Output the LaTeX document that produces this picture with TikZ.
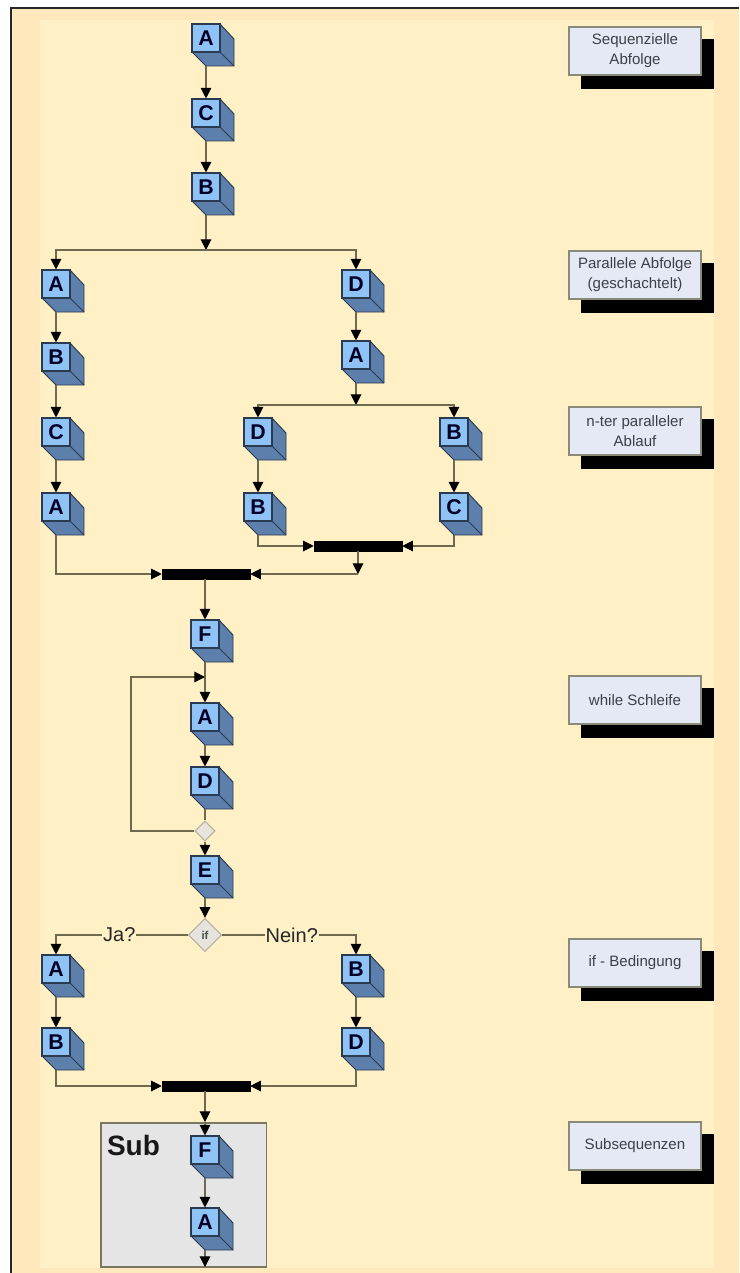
\documentclass[tikz,border=0pt]{standalone}
\usepackage{fontspec}
\setmainfont{Liberation Sans}
\usetikzlibrary{arrows.meta,shapes.geometric}
\definecolor{pagebg}{HTML}{FFE8BC}
\definecolor{innerbg}{HTML}{FFF0C6}
\definecolor{cubefront}{HTML}{8FC3F5}
\definecolor{cubeside}{HTML}{5D7FAB}
\definecolor{cubeedge}{HTML}{2A3A50}
\definecolor{linecol}{HTML}{6E6A50}
\definecolor{notefill}{HTML}{E4E9F5}
\definecolor{noteedge}{HTML}{8A8A78}
\definecolor{notetext}{HTML}{3A3F48}
\definecolor{diamfill}{HTML}{E6E4DC}
\definecolor{diamedge}{HTML}{B4B09A}
\definecolor{subfill}{HTML}{E5E5E5}
\definecolor{subedge}{HTML}{7A7660}
\tikzset{
  x=0.75pt,y=-0.75pt,
  cubeface/.style={draw=cubeedge,line width=0.8pt,fill=cubefront,minimum size=21pt,inner sep=0pt,font=\fontsize{16}{16}\selectfont\bfseries,text=black!85!blue},
  cubeshade/.style={draw=cubeedge,line width=0.7pt,fill=cubeside},
  conn/.style={draw=linecol,line width=0.8pt,-{Triangle[length=8pt,width=8pt,fill=black,color=black]}},
  plainconn/.style={draw=linecol,line width=0.8pt},
  syncbar/.style={fill=black,draw=black,minimum width=66pt,minimum height=7.5pt,inner sep=0pt},
  notebox/.style={draw=noteedge,line width=1.3pt,fill=notefill,minimum width=99.5pt,minimum height=35.5pt,inner sep=1pt,align=center,text=notetext,font=\fontsize{11.3}{15}\selectfont},
  shadowbox/.style={fill=black,minimum width=100pt,minimum height=37pt,inner sep=0pt},
  decision/.style={diamond,aspect=1,draw=diamedge,line width=0.8pt,fill=diamfill,inner sep=0pt},
  branchlabel/.style={fill=innerbg,inner sep=0.7pt,font=\fontsize{15}{15}\selectfont,text=black!85},
}
% \cubenode{name}{x}{y}{letter}: x,y = centre of front face
\newcommand{\cubenode}[4]{%
  \fill[cubeshade] (#2-14,#3-14) -- (#2+14,#3-14) -- (#2+28,#3+1) -- (#2+28,#3+28) -- (#2,#3+28) -- (#2-14,#3+14) -- cycle;
  \draw[cubeedge,line width=0.6pt] (#2+14,#3+14) -- (#2+28,#3+28);
  \node[cubeface] (#1) at (#2,#3) {#4};
  \coordinate (#1o) at (#2,#3+28);
}
\newcommand{\notenode}[4]{%
  \node[shadowbox] (#1s) at (#2+12.5,#3+13) {};
  \node[notebox] (#1) at (#2,#3) {#4};
}
\begin{document}
\begin{tikzpicture}
\useasboundingbox (0,0) rectangle (739,1273);
\fill[white] (0,0) rectangle (739,1273);
\fill[pagebg] (11,8) rectangle (739,1273);
\fill[innerbg] (40,20) rectangle (714,1268);
\draw[black!85,line width=0.9pt] (11,1273) -- (11,8) -- (739,8);

% Subsequence container
\node[draw=subedge,line width=1pt,fill=subfill,minimum width=124pt,minimum height=108pt,inner sep=0pt] (subbox) at (183.5,1195) {};
\node[font=\fontsize{21}{21}\selectfont\bfseries,text=black!90] (sublabel) at (133.5,1145) {Sub};

% Cubes
\cubenode{a1}{206}{38}{A}
\cubenode{c1}{206}{113}{C}
\cubenode{b1}{206}{187}{B}
\cubenode{a2}{56}{284}{A}
\cubenode{d2}{356}{284}{D}
\cubenode{b2}{56}{357}{B}
\cubenode{a3}{356}{355}{A}
\cubenode{c2}{56}{432}{C}
\cubenode{d3}{258}{432}{D}
\cubenode{b3}{454}{432}{B}
\cubenode{a4}{56}{507}{A}
\cubenode{b4}{258}{507}{B}
\cubenode{c3}{454}{507}{C}
\cubenode{f1}{205}{634}{F}
\cubenode{a5}{205}{717}{A}
\cubenode{d4}{205}{781}{D}
\cubenode{e1}{205}{870}{E}
\cubenode{a6}{56}{969}{A}
\cubenode{b5}{356}{969}{B}
\cubenode{b6}{56}{1042}{B}
\cubenode{d5}{356}{1042}{D}
\cubenode{f2}{205}{1150}{F}
\cubenode{a7}{205}{1222}{A}

% Bars and decisions
\node[syncbar] (bar1) at (358,546) {};
\node[syncbar] (bar2) at (206,574) {};
\node[syncbar] (bar3) at (206,1086) {};
\node[decision,minimum size=15pt] (loopd) at (205,831) {};
\node[decision,minimum size=25pt,font=\fontsize{8.5}{8.5}\selectfont\bfseries,text=black!70] (ifd) at (205,935) {if};

% Free junctions
\coordinate (split1) at (206,250);
\coordinate (split2) at (356,405);
\coordinate (join1) at (358,574);
\coordinate (looptop) at (205,677);
\coordinate (subout) at (205,1267);
\coordinate (subin) at (205,1122);
\coordinate (loopl) at (131,831);
\coordinate (loopu) at (131,677);
\coordinate (mark1) at (131,757);
\coordinate (mark2) at (131,781);

% Sequence
\draw[conn] (a1o) -- (c1);
\draw[conn] (c1o) -- (b1);
\draw[conn] (b1o) -- (split1);
\draw[conn] (split1) -| (a2);
\draw[conn] (split1) -| (d2);
\draw[conn] (a2o) -- (b2);
\draw[conn] (b2o) -- (c2);
\draw[conn] (c2o) -- (a4);
\draw[conn] (d2o) -- (a3);
\draw[conn] (a3o) -- (split2);
\draw[conn] (split2) -| (d3);
\draw[conn] (split2) -| (b3);
\draw[conn] (d3o) -- (b4);
\draw[conn] (b3o) -- (c3);
\draw[conn] (b4o) |- (bar1);
\draw[conn] (c3o) |- (bar1);
\draw[conn] (bar1.south -| join1) -- (join1);
\draw[conn] (join1) -- (bar2);
\draw[conn] (a4o) |- (bar2);
\draw[conn] (bar2.south -| f1) -- (f1);
\draw[conn] (f1o) -- (a5);
\draw[conn] (a5o) -- (d4);
\draw[plainconn] (d4o) -- (loopd);
\draw[conn] (loopd.west) -- (loopl) -- (loopu) -- (looptop);
\draw[draw=linecol,line width=1.4pt] (mark1) -- (mark2);
\draw[conn] (loopd) -- (e1);
\draw[conn] (e1o) -- (ifd);
\draw[conn] (ifd) -| node[branchlabel,pos=0.26] (ja) {Ja?} (a6);
\draw[conn] (ifd) -| node[branchlabel,pos=0.26] (nein) {Nein?} (b5);
\draw[conn] (a6o) -- (b6);
\draw[conn] (b5o) -- (d5);
\draw[conn] (b6o) |- (bar3);
\draw[conn] (d5o) |- (bar3);
\draw[conn] (bar3.south -| subin) -- (subin);
\draw[conn] (subin) -- (f2);
\draw[conn] (f2o) -- (a7);
\draw[conn] (a7o) -- (subout);

% Notes
\notenode{n1}{635}{51}{Sequenzielle\\Abfolge}
\notenode{n2}{635}{275}{Parallele Abfolge\\(geschachtelt)}
\notenode{n3}{635}{431}{n-ter paralleler\\Ablauf}
\notenode{n4}{635}{700}{while Schleife}
\notenode{n5}{635}{963}{if - Bedingung}
\notenode{n6}{635}{1146}{Subsequenzen}
\end{tikzpicture}
\end{document}
